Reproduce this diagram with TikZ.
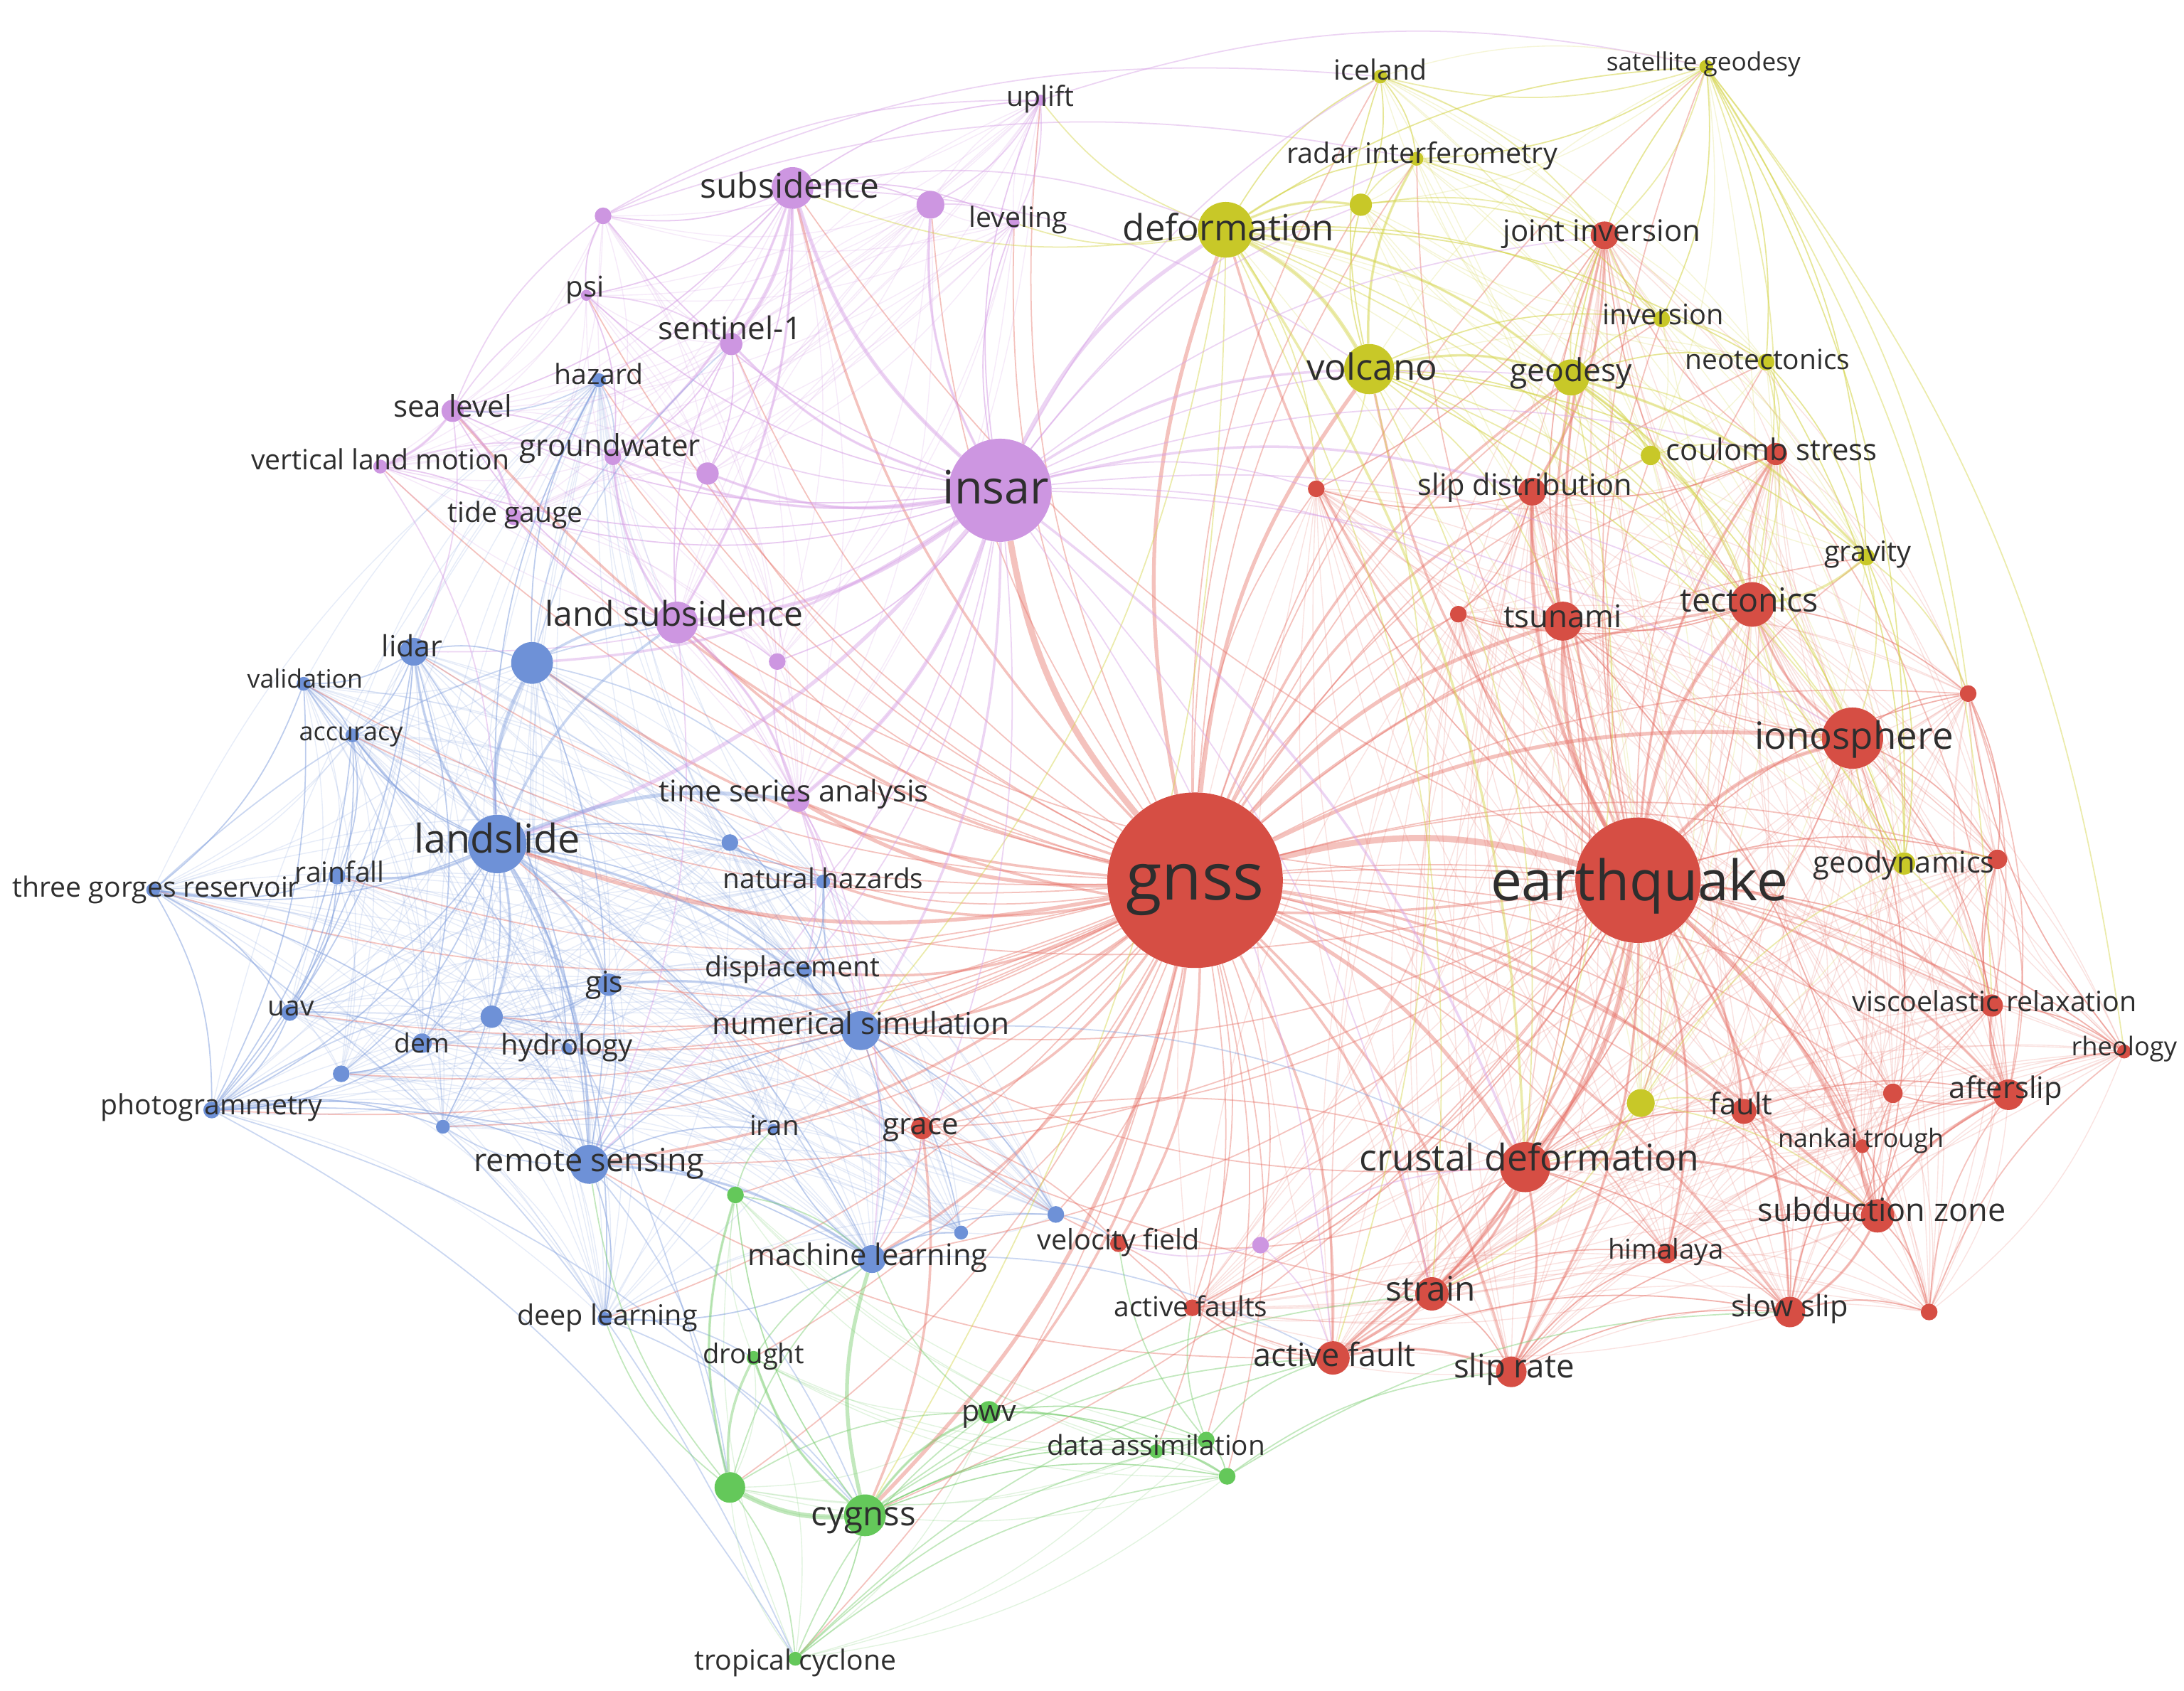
\documentclass[tikz,border=0pt]{standalone}
\usepackage{fontspec}
\setmainfont{Open Sans}
\pgfdeclarelayer{back}
\pgfdeclarelayer{edges}
\pgfdeclarelayer{labels}
\pgfsetlayers{back,edges,main,labels}
\definecolor{cR}{RGB}{214,78,68}
\definecolor{cY}{RGB}{200,200,40}
\definecolor{cP}{RGB}{205,150,225}
\definecolor{cB}{RGB}{110,145,215}
\definecolor{cG}{RGB}{100,200,90}
\definecolor{edR}{RGB}{230,110,100}
\definecolor{edY}{RGB}{212,212,70}
\definecolor{edP}{RGB}{215,160,230}
\definecolor{edB}{RGB}{130,160,222}
\definecolor{edG}{RGB}{120,205,110}
\tikzset{
  lab/.style={text=black!82, inner sep=0pt, font=\fontsize{#1}{#1}\selectfont,
    text height={0.72*#1pt}, text depth={0.2*#1pt}},
  dot/.style={circle, inner sep=0pt, draw=none},
  eR/.style={draw=edR, draw opacity=.42, bend left=15},
  eY/.style={draw=edY, draw opacity=.45, bend left=15},
  eP/.style={draw=edP, draw opacity=.45, bend left=15},
  eB/.style={draw=edB, draw opacity=.42, bend left=15},
  eG/.style={draw=edG, draw opacity=.45, bend left=15},
  mR/.style={eR, draw opacity=.2, line width=.7pt},
  mY/.style={eY, draw opacity=.22, line width=.7pt},
  mP/.style={eP, draw opacity=.22, line width=.7pt},
  mB/.style={eB, draw opacity=.2, line width=.7pt},
  mG/.style={eG, draw opacity=.22, line width=.7pt}
}
\newcommand\N[5]{\node[dot, minimum size={#4*2pt}, fill=#5] (#1) at (#2,#3) {};}
\newcommand\Lb[5]{\node[lab=#4] (t#1) at (#2,#3) {#5};}
\newcommand\Mesh[2]{\foreach \a [count=\i] in {#2} {\foreach \b [count=\j] in {#2} {\ifnum\j>\i \draw[#1] (\a) to (\b);\fi}}}
\begin{document}
\begin{tikzpicture}[x=1pt,y=-1pt]
\begin{pgfonlayer}{back}
\fill[white] (0,0) rectangle (1568,1214);
\end{pgfonlayer}
\useasboundingbox (0,0) rectangle (1568,1214);
% ---------- red
\N{gnss}{858}{632}{63}{cR}
\N{eq}{1176}{632}{45}{cR}
\N{iono}{1330}{530}{22}{cR}
\N{tect}{1258}{434}{16}{cR}
\N{tsun}{1122}{446}{14}{cR}
\N{crust}{1095}{838}{18}{cR}
\N{strain}{1028}{929}{12}{cR}
\N{afault}{957}{975}{12}{cR}
\N{sliprate}{1085}{985}{11}{cR}
\N{subd}{1348}{873}{12}{cR}
\N{slow}{1285}{942}{11}{cR}
\N{hima}{1197}{900}{7}{cR}
\N{nankai}{1337}{823}{5}{cR}
\N{fault}{1252}{798}{9}{cR}
\N{after}{1442}{786}{11}{cR}
\N{visco}{1430}{722}{8}{cR}
\N{rheo}{1525}{755}{5}{cR}
\N{joint}{1152}{169}{10}{cR}
\N{coul}{1275}{326}{8}{cR}
\N{slipd}{1100}{353}{10}{cR}
\N{grace}{662}{810}{8}{cR}
\N{afaults}{856}{939}{6}{cR}
\N{velf}{803}{893}{6}{cR}
\N{r1}{945}{351}{6}{cR}
\N{r2}{1047}{441}{6}{cR}
\N{r3}{1413}{498}{6}{cR}
\N{r4}{1434}{617}{7}{cR}
\N{r5}{1359}{785}{7}{cR}
\N{r6}{1385}{942}{6}{cR}
% ---------- yellow
\N{deform}{880}{165}{20}{cY}
\N{volc}{983}{265}{18}{cY}
\N{geod}{1128}{271}{13}{cY}
\N{iceland}{991}{55}{5}{cY}
\N{satg}{1225}{48}{5}{cY}
\N{radar}{1017}{114}{5}{cY}
\N{neot}{1268}{260}{6}{cY}
\N{inv}{1193}{229}{6}{cY}
\N{grav}{1340}{400}{6}{cY}
\N{geody}{1367}{620}{8}{cY}
\N{y1}{977}{147}{8}{cY}
\N{y2}{1185}{327}{7}{cY}
\N{y3}{1178}{792}{10}{cY}
% ---------- purple
\N{insar}{718}{352}{37}{cP}
\N{subs}{569}{135}{15}{cP}
\N{lsubs}{486}{447}{15}{cP}
\N{sent}{525}{247}{8}{cP}
\N{lev}{728}{160}{4}{cP}
\N{p1}{668}{147}{10}{cP}
\N{uplift}{747}{72}{4}{cP}
\N{psi}{421}{212}{4}{cP}
\N{p2}{433}{155}{6}{cP}
\N{sealev}{325}{295}{8}{cP}
\N{gw}{440}{328}{6}{cP}
\N{vlm}{273}{335}{5}{cP}
\N{tide}{369}{371}{6}{cP}
\N{p3}{508}{340}{8}{cP}
\N{p4}{558}{475}{6}{cP}
\N{tsa}{573}{575}{8}{cP}
\N{p5}{905}{894}{6}{cP}
% ---------- blue
\N{hazard}{430}{273}{5}{cB}
\N{lslide}{357}{606}{21}{cB}
\N{lidar}{297}{468}{10}{cB}
\N{b1}{382}{476}{15}{cB}
\N{valid}{218}{491}{5}{cB}
\N{acc}{253}{528}{5}{cB}
\N{rain}{242}{629}{6}{cB}
\N{tgr}{110}{639}{5}{cB}
\N{gis}{437}{707}{8}{cB}
\N{uav}{208}{727}{6}{cB}
\N{b2}{353}{730}{8}{cB}
\N{dem}{303}{749}{7}{cB}
\N{hydro}{407}{753}{4}{cB}
\N{b3}{245}{771}{6}{cB}
\N{photo}{152}{797}{6}{cB}
\N{b4}{318}{809}{5}{cB}
\N{rs}{423}{836}{14}{cB}
\N{numsim}{618}{740}{14}{cB}
\N{nh}{591}{633}{5}{cB}
\N{disp}{578}{697}{5}{cB}
\N{b5}{524}{605}{6}{cB}
\N{ml}{626}{904}{10}{cB}
\N{dl}{434}{947}{5}{cB}
\N{b6}{758}{872}{6}{cB}
\N{b7}{690}{885}{5}{cB}
\N{iran}{555}{811}{4}{cB}
% ---------- green
\N{cyg}{621}{1088}{15}{cG}
\N{pwv}{710}{1014}{8}{cG}
\N{dassim}{830}{1042}{5}{cG}
\N{g1}{866}{1034}{6}{cG}
\N{g2}{881}{1060}{6}{cG}
\N{drought}{541}{975}{5}{cG}
\N{tc}{571}{1191}{5}{cG}
\N{g3}{524}{1068}{11}{cG}
\N{g4}{528}{858}{6}{cG}
% ---------- labels
\begin{pgfonlayer}{labels}
\Lb{gnss}{858}{634}{47}{gnss}
\Lb{eq}{1177}{636}{40}{earthquake}
\Lb{insar}{715}{353}{33}{insar}
\Lb{deform}{882}{166}{26}{deformation}
\Lb{volc}{985}{266}{26}{volcano}
\Lb{subs}{567}{136}{24.5}{subsidence}
\Lb{lsubs}{484}{443}{24.5}{land subsidence}
\Lb{sent}{524}{238}{22.5}{sentinel-1}
\Lb{lev}{731}{158}{20}{leveling}
\Lb{uplift}{747}{71}{20}{uplift}
\Lb{psi}{420}{208}{20.5}{psi}
\Lb{hazard}{430}{271}{20}{hazard}
\Lb{sealev}{325}{294}{21.5}{sea level}
\Lb{vlm}{273}{332}{20}{vertical land motion}
\Lb{gw}{438}{322}{21.5}{groundwater}
\Lb{tide}{370}{370}{20}{tide gauge}
\Lb{lidar}{296}{466}{21}{lidar}
\Lb{valid}{219}{489}{18.2}{validation}
\Lb{acc}{252}{527}{18.4}{accuracy}
\Lb{lslide}{357}{605}{28.5}{landslide}
\Lb{tgr}{112}{639}{20}{three gorges reservoir}
\Lb{rain}{244}{628}{20}{rainfall}
\Lb{uav}{209}{724}{19.8}{uav}
\Lb{dem}{303}{751}{19}{dem}
\Lb{hydro}{407}{752}{20.4}{hydrology}
\Lb{gis}{434}{707}{21}{gis}
\Lb{photo}{152}{795}{20}{photogrammetry}
\Lb{rs}{423}{835}{23}{remote sensing}
\Lb{numsim}{618}{737}{21.7}{numerical simulation}
\Lb{tsa}{570}{570}{21.4}{time series analysis}
\Lb{nh}{591}{633}{19.8}{natural hazards}
\Lb{disp}{569}{696}{20}{displacement}
\Lb{iran}{556}{810}{19.6}{iran}
\Lb{grace}{661}{809}{21.5}{grace}
\Lb{ml}{623}{903}{21.3}{machine learning}
\Lb{dl}{436}{946}{20.2}{deep learning}
\Lb{drought}{541}{974}{19.5}{drought}
\Lb{pwv}{710}{1015}{21}{pwv}
\Lb{dassim}{830}{1040}{19.8}{data assimilation}
\Lb{cyg}{620}{1089}{24.2}{cygnss}
\Lb{tc}{571}{1194}{20}{tropical cyclone}
\Lb{velf}{803}{892}{20.2}{velocity field}
\Lb{afaults}{855}{940}{19.8}{active faults}
\Lb{strain}{1027}{928}{24.4}{strain}
\Lb{afault}{958}{975}{23}{active fault}
\Lb{sliprate}{1087}{983}{23.3}{slip rate}
\Lb{crust}{1098}{834}{26.4}{crustal deformation}
\Lb{hima}{1196}{899}{19.6}{himalaya}
\Lb{slow}{1285}{940}{21.2}{slow slip}
\Lb{subd}{1351}{871}{23}{subduction zone}
\Lb{nankai}{1336}{819}{18.3}{nankai trough}
\Lb{fault}{1250}{795}{21.3}{fault}
\Lb{after}{1440}{783}{21.3}{afterslip}
\Lb{visco}{1432}{721}{20.1}{viscoelastic relaxation}
\Lb{rheo}{1525}{753}{18.5}{rheology}
\Lb{geody}{1367}{621}{21.2}{geodynamics}
\Lb{iono}{1331}{531}{27}{ionosphere}
\Lb{tect}{1256}{433}{23.8}{tectonics}
\Lb{tsun}{1122}{445}{22.4}{tsunami}
\Lb{grav}{1341}{398}{20.2}{gravity}
\Lb{slipd}{1095}{350}{21.2}{slip distribution}
\Lb{coul}{1272}{325}{21.4}{coulomb stress}
\Lb{neot}{1269}{260}{19.9}{neotectonics}
\Lb{geod}{1128}{268}{22.7}{geodesy}
\Lb{inv}{1194}{228}{20.3}{inversion}
\Lb{joint}{1150}{168}{21.4}{joint inversion}
\Lb{radar}{1021}{112}{20.2}{radar interferometry}
\Lb{iceland}{991}{52}{20}{iceland}
\Lb{satg}{1223}{46}{18}{satellite geodesy}
\end{pgfonlayer}
% ---------- edges
\begin{pgfonlayer}{edges}
% light background mesh within each cluster
\Mesh{mR}{eq,iono,tect,tsun,crust,strain,afault,sliprate,subd,slow,hima,nankai,fault,after,visco,rheo,joint,coul,slipd,afaults,r1,r2,r3,r4,r5,r6}
\Mesh{mY}{deform,volc,geod,iceland,satg,radar,neot,inv,grav,geody,y1,y2,y3}
\Mesh{mP}{insar,subs,lsubs,sent,lev,p1,uplift,psi,p2,sealev,gw,vlm,tide,p3,p4,tsa}
\Mesh{mB}{lslide,lidar,b1,valid,acc,rain,tgr,gis,uav,b2,dem,hydro,b3,photo,b4,rs,numsim,nh,disp,b5,ml,dl,b6,b7,iran,hazard}
\Mesh{mG}{cyg,pwv,dassim,g1,g2,drought,tc,g3,g4}
\foreach \a/\b/\w in {gnss/eq/5, gnss/insar/5, gnss/iono/3, gnss/tect/2, gnss/tsun/3, gnss/crust/3, gnss/strain/2, gnss/afault/2, gnss/sliprate/2, gnss/subd/2, gnss/slow/2, gnss/hima/1, gnss/nankai/1, gnss/fault/2, gnss/after/1, gnss/visco/1, gnss/rheo/1, gnss/joint/1, gnss/coul/1, gnss/slipd/2, gnss/grace/2, gnss/afaults/1, gnss/velf/2, gnss/r1/1, gnss/r2/1, gnss/r3/1, gnss/r4/1, gnss/r5/1, gnss/r6/1, gnss/deform/3, gnss/volc/3, gnss/geod/2, gnss/iceland/1, gnss/satg/1, gnss/radar/1, gnss/neot/1, gnss/inv/1, gnss/grav/1, gnss/geody/1, gnss/y1/1, gnss/y2/1, gnss/y3/1, gnss/subs/2, gnss/lsubs/2, gnss/sent/1, gnss/lev/1, gnss/p1/1, gnss/uplift/1, gnss/psi/1, gnss/sealev/2, gnss/gw/1, gnss/vlm/1, gnss/tide/1, gnss/p3/1, gnss/p4/1, gnss/tsa/3, gnss/p5/1, gnss/hazard/1, gnss/lslide/3, gnss/lidar/1, gnss/b1/2, gnss/valid/1, gnss/acc/1, gnss/rain/1, gnss/tgr/1, gnss/gis/1, gnss/uav/1, gnss/b2/1, gnss/dem/1, gnss/hydro/1, gnss/b3/1, gnss/photo/1, gnss/b4/1, gnss/rs/2, gnss/numsim/2, gnss/nh/2, gnss/disp/2, gnss/b5/1, gnss/ml/2, gnss/dl/1, gnss/b6/1, gnss/b7/1, gnss/iran/1, gnss/cyg/3, gnss/pwv/2, gnss/dassim/1, gnss/g1/1, gnss/g2/1, gnss/drought/1, gnss/tc/1, gnss/g3/1, gnss/g4/1,
 eq/iono/3, eq/tect/3, eq/tsun/3, eq/crust/4, eq/strain/2, eq/afault/2, eq/sliprate/2, eq/subd/3, eq/slow/2, eq/hima/2, eq/nankai/1, eq/fault/2, eq/after/2, eq/visco/2, eq/rheo/1, eq/joint/2, eq/coul/2, eq/slipd/3, eq/r1/1, eq/r2/1, eq/r3/1, eq/r4/1, eq/r5/1, eq/r6/1, eq/deform/2, eq/volc/2, eq/geod/2, eq/inv/1, eq/neot/1, eq/grav/1, eq/geody/1, eq/y2/1, eq/y3/1, eq/grace/1, eq/afaults/1, eq/velf/1, eq/lslide/1, eq/tsa/2, eq/numsim/1, eq/rs/1, eq/ml/1, eq/radar/1, eq/p5/1, eq/satg/1, eq/lsubs/1, eq/subs/1, eq/cyg/1, eq/pwv/1,
 iono/tect/2, iono/tsun/1, iono/r3/1, iono/r4/1, iono/visco/1, iono/subd/1, iono/crust/1, tect/tsun/1, tect/coul/2, tect/r3/1, tect/crust/1, tect/joint/1, tect/r2/1, tsun/slipd/2, tsun/r2/1, tsun/subd/1, tsun/joint/1, tsun/crust/1, coul/slipd/1, coul/joint/1, coul/after/1, joint/slipd/2, joint/r1/1, slipd/r1/1, slipd/crust/1, slipd/r2/1, crust/strain/2, crust/afault/2, crust/sliprate/2, crust/fault/1, crust/subd/2, crust/hima/1, crust/velf/1, crust/afaults/1, crust/slow/1, strain/afault/2, strain/sliprate/1, strain/hima/1, afault/sliprate/2, afault/afaults/1, afault/velf/1, sliprate/hima/1, sliprate/slow/1, subd/slow/2, subd/nankai/1, subd/after/2, subd/r6/1, subd/r5/1, subd/visco/1, subd/fault/1, slow/nankai/1, slow/r6/1, slow/after/1, after/visco/2, after/rheo/1, after/r5/1, after/r4/1, visco/rheo/1, visco/r4/1, r3/r4/1, r3/after/1, r3/visco/1, r4/after/1, rheo/r3/1, fault/after/1, hima/subd/1, grace/velf/1, grace/crust/1, velf/afaults/1, r6/after/1, r6/rheo/1, fault/slow/1, r5/slow/1, nankai/after/1, sliprate/subd/1, afault/slow/1, hima/slow/1, grace/numsim/1, grace/ml/1, grace/cyg/2, velf/numsim/1, afault/rs/1, crust/numsim/1, strain/lslide/1}
  \draw[eR, line width=\w*0.9pt] (\a) to (\b);
\foreach \a/\b/\w in {deform/volc/3, deform/geod/2, deform/y1/2, deform/radar/1, deform/iceland/1, deform/satg/1, deform/inv/1, deform/neot/1, deform/joint/1, deform/r1/1, deform/tect/1, deform/crust/2, deform/subs/1, deform/uplift/1, deform/lev/1, deform/iono/1, deform/strain/1,
 volc/geod/2, volc/y1/1, volc/iceland/1, volc/radar/2, volc/inv/1, volc/grav/1, volc/y2/1, volc/slipd/1, volc/tect/1, volc/r1/1, volc/iono/1, volc/geody/1, volc/crust/1, volc/tsun/1,
 geod/inv/1, geod/neot/1, geod/y2/1, geod/grav/2, geod/coul/1, geod/satg/1, geod/tect/2, geod/joint/1, geod/geody/1, geod/slipd/1, geod/iono/1, geod/crust/1,
 satg/iceland/1, satg/radar/1, satg/inv/1, satg/neot/1, satg/grav/1, satg/geody/1, satg/tect/1, satg/joint/1, satg/rheo/1, satg/visco/1, satg/r3/1,
 iceland/radar/1, iceland/y1/1, iceland/joint/1, y1/radar/1, y1/joint/1, radar/joint/1, radar/inv/1,
 neot/grav/1, neot/tect/1, neot/geody/1, neot/coul/1, grav/tect/2, grav/iono/1, grav/geody/1, grav/r3/1, geody/iono/1, geody/tect/1, geody/r4/1, geody/visco/1, y2/coul/1, y2/slipd/1, y2/tect/1, inv/joint/1, inv/neot/1,
 y3/crust/1, y3/fault/1, y3/strain/1, y3/geody/1, y3/subd/1, deform/numsim/1, deform/cyg/1, volc/afault/1}
  \draw[eY, line width=\w*0.9pt] (\a) to (\b);
\foreach \a/\b/\w in {insar/subs/3, insar/lsubs/3, insar/sent/2, insar/lev/1, insar/p1/2, insar/uplift/1, insar/psi/1, insar/p2/1, insar/sealev/1, insar/gw/2, insar/vlm/1, insar/tide/1, insar/p3/2, insar/p4/1, insar/tsa/3, insar/deform/3, insar/volc/2, insar/geod/1, insar/radar/1, insar/iceland/1, insar/y1/1, insar/lslide/3, insar/b1/2, insar/lidar/1, insar/rs/1, insar/numsim/2, insar/nh/1, insar/disp/1, insar/hazard/1, insar/r1/1, insar/slipd/2, insar/tsun/1, insar/crust/2, insar/joint/1, insar/coul/1, insar/afault/1, insar/strain/1, insar/ml/1, insar/iono/1, insar/tect/1,
 subs/lsubs/2, subs/sent/3, subs/p1/1, subs/uplift/1, subs/p2/1, subs/psi/1, subs/gw/2, subs/lev/1, subs/p3/1, subs/hazard/1, subs/sealev/1, lsubs/gw/2, lsubs/sent/1, lsubs/p3/1, lsubs/tide/1, lsubs/p4/1, lsubs/tsa/2, lsubs/sealev/1, sealev/vlm/2, sealev/tide/2, sealev/gw/1, sealev/psi/1, sealev/p2/1, psi/p2/1, psi/gw/1, psi/sent/1, sent/p3/1, sent/gw/1, uplift/lev/1, uplift/p1/1, p1/lev/1, vlm/tide/1, vlm/gw/1, tsa/p4/1, tsa/disp/1, tsa/b5/1, tsa/nh/1, p5/afault/1, p5/crust/1, p5/velf/1, p2/uplift/1, p2/iceland/1, p2/radar/1, uplift/satg/1, subs/deform/1, subs/volc/1, lsubs/numsim/1, lsubs/rs/1, tsa/numsim/1, tsa/ml/1, vlm/lslide/1, sealev/lidar/1}
  \draw[eP, line width=\w*0.9pt] (\a) to (\b);
\foreach \a/\b/\w in {lslide/lidar/2, lslide/b1/3, lslide/valid/1, lslide/acc/1, lslide/rain/2, lslide/tgr/1, lslide/gis/2, lslide/uav/1, lslide/b2/2, lslide/dem/1, lslide/hydro/1, lslide/b3/1, lslide/photo/1, lslide/b4/1, lslide/rs/2, lslide/numsim/2, lslide/nh/1, lslide/disp/1, lslide/b5/1, lslide/ml/1, lslide/tsa/3, lslide/lsubs/2, lslide/hazard/1, lslide/dl/1, lidar/b1/1, lidar/valid/1, lidar/acc/1, lidar/photo/1, lidar/dem/1, lidar/uav/1, lidar/rs/1, b1/lsubs/2, b1/sent/1, b1/gw/1, b1/tsa/1, b1/rs/1, b1/hazard/1, b1/numsim/1, valid/acc/1, valid/photo/1, valid/tgr/1, acc/photo/1, acc/uav/1, acc/rain/1, rain/tgr/1, rain/uav/1, rain/photo/1, tgr/photo/1, tgr/uav/1, uav/photo/1, uav/dem/1, dem/photo/1, dem/b3/1, b3/photo/1, photo/rs/1, photo/b4/1, photo/ml/1, photo/gis/1, gis/rs/1, gis/b2/1, gis/hydro/1, gis/numsim/2, b2/rs/1, b2/hydro/1, rs/numsim/1, rs/ml/2, rs/dl/1, rs/b4/1, rs/disp/1, rs/iran/1, rs/cyg/1, rs/g4/1, numsim/disp/1, numsim/nh/1, numsim/ml/1, numsim/b7/1, numsim/b6/1, nh/disp/1, nh/b5/1, ml/dl/1, ml/b7/1, ml/iran/1, ml/b6/1, dl/drought/1, dl/cyg/1, b6/velf/1, hazard/gw/1, tgr/rs/1, photo/cyg/1, hazard/sealev/1, tgr/tc/1, photo/tc/1, valid/g3/1, tgr/lsubs/1, ml/afault/1, numsim/crust/1, rs/g3/1}
  \draw[eB, line width=\w*0.9pt] (\a) to (\b);
\foreach \a/\b/\w in {cyg/pwv/2, cyg/g3/4, cyg/dassim/1, cyg/g1/1, cyg/g2/1, cyg/drought/2, cyg/tc/1, cyg/g4/1, cyg/ml/3, pwv/dassim/1, pwv/g1/1, pwv/g2/1, pwv/ml/1, g3/drought/2, g3/tc/1, g3/g4/2, g3/rs/1, g3/dl/1, g3/pwv/1, drought/ml/1, tc/pwv/1, tc/g2/1, g1/g2/1, g1/velf/1, g1/afault/1, dassim/g2/1, g4/ml/1, g4/iran/1, g2/slow/1, tc/afault/1, cyg/strain/1, g3/ml/1, g1/afaults/1, g2/sliprate/1, cyg/afault/1, tc/g1/1}
  \draw[eG, line width=\w*0.9pt] (\a) to (\b);
\end{pgfonlayer}
\end{tikzpicture}
\end{document}
